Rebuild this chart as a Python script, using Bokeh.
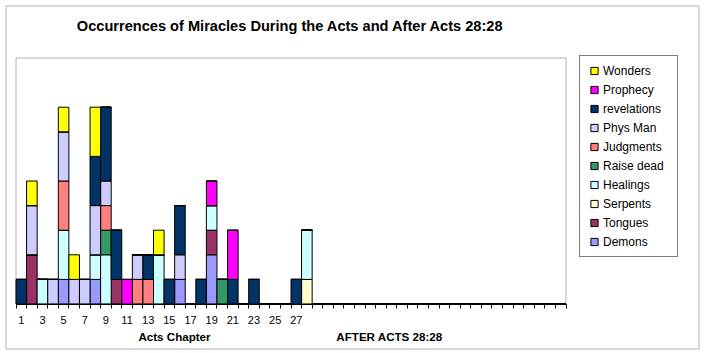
from bokeh.plotting import figure
from bokeh.models import (ColumnDataSource, Range1d, FixedTicker, Legend, LegendItem,
                          Label, BoxAnnotation, LinearAxis)
from bokeh.embed import file_html
from bokeh.resources import INLINE

title = "Occurrences of Miracles During the Acts and After Acts 28:28"
x_title_left = "Acts Chapter"
x_title_right = "AFTER ACTS 28:28"

chapters = list(range(1, 29))          # Acts 1 .. 28
n_after = 24                            # empty slots "after Acts 28:28"
tick_values = list(range(1, 28, 2))     # labelled chapters 1,3,...,27
y_max = 10

# series, bottom of stack first
demons      = [0,0,0,0,1, 0,0,1,0,0, 0,0,0,0,0, 1,0,0,2,0, 0,0,0,0,0, 0,0,0]
tongues     = [0,2,0,0,0, 0,0,0,0,1, 0,0,0,0,0, 0,0,0,1,0, 0,0,0,0,0, 0,0,0]
serpents    = [0,0,0,0,0, 0,0,0,0,0, 0,0,0,0,0, 0,0,0,0,0, 0,0,0,0,0, 0,0,1]
healings    = [0,0,1,0,2, 0,0,1,2,0, 0,0,0,2,0, 0,0,0,1,0, 0,0,0,0,0, 0,0,2]
raise_dead  = [0,0,0,0,0, 0,0,0,1,0, 0,0,0,0,0, 0,0,0,0,1, 0,0,0,0,0, 0,0,0]
judgments   = [0,0,0,0,2, 0,0,0,1,0, 0,1,1,0,0, 0,0,0,0,0, 0,0,0,0,0, 0,0,0]
phys_man    = [0,2,0,1,2, 1,1,2,1,0, 0,1,0,0,0, 1,0,0,0,0, 0,0,0,0,0, 0,0,0]
revelations = [1,0,0,0,0, 0,0,2,3,2, 0,0,1,0,1, 2,0,1,0,0, 1,0,1,0,0, 0,1,0]
prophecy    = [0,0,0,0,0, 0,0,0,0,0, 1,0,0,0,0, 0,0,0,1,0, 2,0,0,0,0, 0,0,0]
wonders     = [0,1,0,0,1, 1,0,2,0,0, 0,0,0,1,0, 0,0,0,0,0, 0,0,0,0,0, 0,0,0]

series_names = ["Demons", "Tongues", "Serpents", "Healings", "Raise dead",
                "Judgments", "Phys Man", "revelations", "Prophecy", "Wonders"]
series_values = [demons, tongues, serpents, healings, raise_dead,
                 judgments, phys_man, revelations, prophecy, wonders]
series_colors = ["#9999FF", "#993366", "#FFFFCC", "#CCFFFF", "#339966",
                 "#FF8080", "#CCCCFF", "#003366", "#FF00FF", "#FFFF00"]

FONT = "Liberation Sans"

# ---- page geometry (pixels) ----
W, H = 705, 353
PA_L, PA_R, PA_T, PA_B = 15.5, 565.5, 57.5, 303.5   # plot-area box on the page

n_total = len(chapters) + n_after
x_lo, x_hi = 0.5, n_total + 0.5
ux = (PA_R - PA_L) / (x_hi - x_lo)
uy = (PA_B - PA_T) / y_max

data = {"x": list(range(1, n_total + 1))}
keys = []
for i, vals in enumerate(series_values):
    k = "s%d" % i
    keys.append(k)
    data[k] = list(vals) + [0] * n_after
source = ColumnDataSource(data)

p = figure(width=W, height=H,
           x_range=Range1d(x_lo - PA_L / ux, x_hi + (W - PA_R) / ux),
           y_range=Range1d(-(H - PA_B) / uy, y_max + PA_T / uy),
           output_backend="svg", toolbar_location=None,
           x_axis_location=None, y_axis_location=None,
           min_border=0)
p.title.visible = False
p.background_fill_color = "white"
p.border_fill_color = "white"
p.outline_line_color = None
p.xgrid.visible = False
p.ygrid.visible = False

p.vbar_stack(keys, x="x", width=1.0, source=source,
             fill_color=series_colors, line_color="black", line_width=1)

# plot-area border
p.add_layout(BoxAnnotation(left=x_lo, right=x_hi, bottom=0, top=y_max,
                           fill_alpha=0, line_color="black", line_width=1))

ax = LinearAxis(fixed_location=0, bounds=(x_lo, x_hi))
ax.ticker = FixedTicker(ticks=tick_values,
                        minor_ticks=[x_lo + i for i in range(0, n_total + 1)])
ax.axis_line_color = "black"
ax.major_tick_in = 0
ax.major_tick_out = 0
ax.minor_tick_in = 0
ax.minor_tick_out = 4
ax.minor_tick_line_color = "black"
ax.major_label_standoff = 8
ax.major_label_text_font = FONT
ax.major_label_text_font_size = "11px"
ax.major_label_text_color = "black"
p.add_layout(ax, "below")

# legend (top entry = top of stack)
legend_items = []
for name, col in reversed(list(zip(series_names, series_colors))):
    r = p.scatter(x=[float("nan")], y=[float("nan")], marker="square",
                  fill_color=col, line_color="black", line_width=1)
    legend_items.append(LegendItem(label=name, renderers=[r]))
LEG_PAD, LEG_ROW = 5, 19
leg_h = 2 * LEG_PAD + LEG_ROW * len(legend_items)
legend = Legend(items=legend_items, location=(579, H - 57 - leg_h),
                padding=LEG_PAD, margin=0, spacing=0,
                glyph_width=18, glyph_height=LEG_ROW, label_height=LEG_ROW,
                label_standoff=0, label_width=69,
                label_text_font=FONT, label_text_font_size="12px",
                label_text_color="black",
                border_line_color="black", border_line_width=1,
                background_fill_color="white", background_fill_alpha=1)
p.add_layout(legend, "center")

p.add_layout(Label(x=290, y=H - 25.5, x_units="screen", y_units="screen", text=title,
                   text_align="center", text_baseline="middle", text_font=FONT,
                   text_font_style="bold", text_font_size="14.6px", text_color="black"))
p.add_layout(Label(x=174, y=H - 336, x_units="screen", y_units="screen", text=x_title_left,
                   text_align="center", text_baseline="middle", text_font=FONT,
                   text_font_style="bold", text_font_size="11.6px", text_color="black"))
p.add_layout(Label(x=389, y=H - 336, x_units="screen", y_units="screen", text=x_title_right,
                   text_align="center", text_baseline="middle", text_font=FONT,
                   text_font_style="bold", text_font_size="11.6px", text_color="black"))

# outer chart border
p.add_layout(BoxAnnotation(left=5.5, right=698.5, bottom=H - 348.5, top=H - 5.5,
                           left_units="screen", right_units="screen",
                           bottom_units="screen", top_units="screen",
                           fill_alpha=0, line_color="black", line_width=1))

open("out.html", "w").write(file_html(p, INLINE))
